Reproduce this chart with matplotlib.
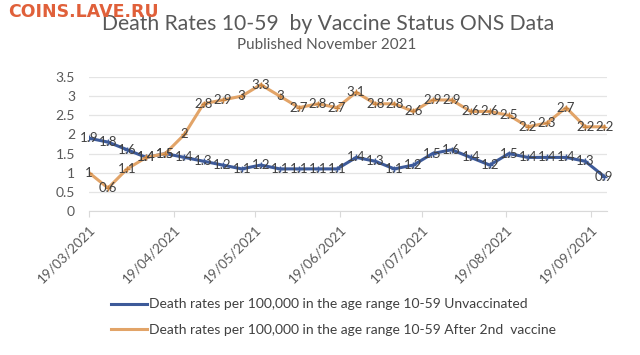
from datetime import datetime, timedelta

import matplotlib.pyplot as plt
import matplotlib.dates as mdates
from matplotlib.lines import Line2D

# Weekly values (19/03/2021 onwards)
start = datetime(2021, 3, 19)
weeks = 28
dates = [start + timedelta(days=7 * i) for i in range(weeks)]

unvaccinated = [1.9, 1.8, 1.6, 1.4, 1.5, 1.4, 1.3, 1.2, 1.1, 1.2,
                1.1, 1.1, 1.1, 1.1, 1.4, 1.3, 1.1, 1.2, 1.5, 1.6,
                1.4, 1.2, 1.5, 1.4, 1.4, 1.4, 1.3, 0.9]
after_2nd = [1, 0.6, 1.1, 1.4, 1.5, 2, 2.8, 2.9, 3, 3.3,
             3, 2.7, 2.8, 2.7, 3.1, 2.8, 2.8, 2.6, 2.9, 2.9,
             2.6, 2.6, 2.5, 2.2, 2.3, 2.7, 2.2, 2.2]

tick_dates = [datetime(2021, m, 19) for m in range(3, 10)]
yticks = [0, 0.5, 1, 1.5, 2, 2.5, 3, 3.5]

label_blue = 'Death rates per 100,000 in the age range 10-59 Unvaccinated'
label_orange = 'Death rates per 100,000 in the age range 10-59 After 2nd  vaccine'

plt.rcParams['font.family'] = ['Lato', 'DejaVu Sans']
grey = '#595959'
blue = '#3d5a99'
orange = '#e2a468'

fig = plt.figure(figsize=(6.4, 3.55), dpi=100)
ax = fig.add_axes([89 / 640, 1 - 211 / 355, (607 - 89) / 640, (211 - 77) / 355])

ax.plot(dates, unvaccinated, color=blue, lw=2.2, marker='+', ms=4, mew=1)
ax.plot(dates, after_2nd, color=orange, lw=2.2, marker='+', ms=4, mew=1,
        mec='#c98440')

for d, v in zip(dates, unvaccinated):
    ax.text(d, v, f'{v:g}', ha='center', va='center', fontsize=9.5, color='#404040')
for d, v in zip(dates, after_2nd):
    ax.text(d, v, f'{v:g}', ha='center', va='center', fontsize=9.5, color='#404040')

# Formatting
ax.set_ylim(0, 3.5)
ax.set_yticks(yticks)
ax.set_yticklabels([f'{t:g}' for t in yticks])
ax.set_xlim(start, datetime(2021, 9, 25))
ax.set_xticks(tick_dates)
ax.xaxis.set_major_formatter(mdates.DateFormatter('%d/%m/%Y'))
for lbl in ax.get_xticklabels():
    lbl.set_rotation(45)
    lbl.set_ha('right')
    lbl.set_rotation_mode('anchor')

ax.grid(axis='y', color='#e4e4e4', lw=0.9)
ax.set_axisbelow(True)
for s in ['top', 'right', 'left']:
    ax.spines[s].set_visible(False)
ax.spines['bottom'].set_color('#d9d9d9')
ax.tick_params(axis='y', length=0, labelsize=10, colors=grey, pad=10)
ax.tick_params(axis='x', length=4, color='#d9d9d9', labelsize=9.8,
               labelcolor=grey, direction='out', pad=5)

fig.text(0.513, 0.932, 'Death Rates 10-59  by Vaccine Status ONS Data',
         ha='center', va='center', fontsize=15.2, color=grey)
fig.text(0.511, 0.872, 'Published November 2021', ha='center', va='center',
         fontsize=11, color=grey)
fig.text(0.012, 0.965, 'COINS.LAVE.RU', ha='left', va='center', fontsize=12.5,
         fontweight='bold', color='#e0603a', family='DejaVu Sans')

handles = [Line2D([], [], color=blue, lw=2.2), Line2D([], [], color=orange, lw=2.2)]
fig.legend(handles, [label_blue, label_orange], loc='upper left',
           bbox_to_anchor=(98 / 640, 1 - 286 / 355), frameon=False,
           handlelength=2.6, handletextpad=0.15, labelspacing=0.95,
           fontsize=10, labelcolor='#404040')

fig.savefig('out.png', dpi=100, facecolor='white')
